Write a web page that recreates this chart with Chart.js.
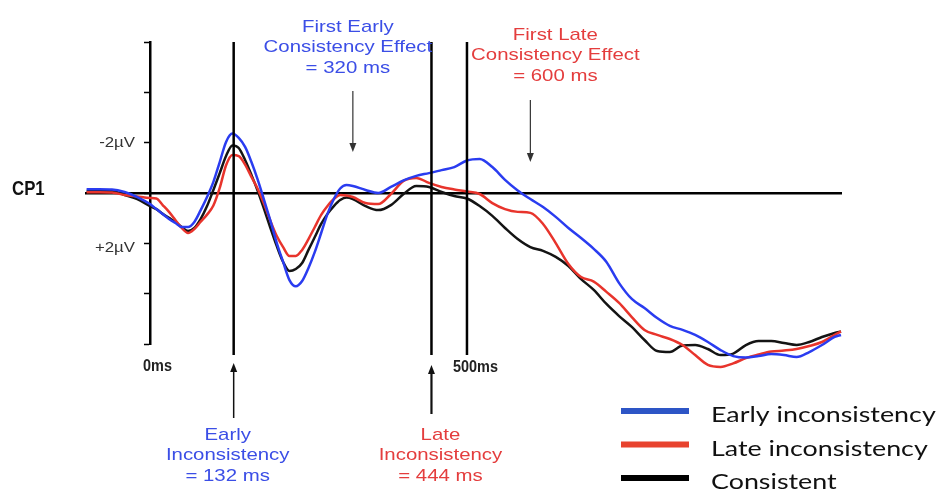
<!DOCTYPE html>
<html>
<head>
<meta charset="utf-8">
<script src="https://cdn.jsdelivr.net/npm/chart.js@4.4.1/dist/chart.umd.min.js"></script>
<style>
  html, body { margin: 0; padding: 0; background: #fff; }
  canvas { display: block; }
</style>
</head>
<body>
<canvas id="erp" width="937" height="491"></canvas>
<script>
// sample times in ms (denser over the early components)
const times = [-100, -80, -60, -40, -20,
  0, 10, 20, 30, 40, 50, 60, 70, 80, 90,
  100, 110, 120, 130, 140, 150, 160, 170, 180, 190,
  200, 210, 220, 230, 240, 250, 260, 270, 280, 290,
  300, 310, 320,
  340, 360, 380, 400, 420, 440, 460, 480, 500, 520,
  540, 560, 580, 600, 620, 640, 660, 680, 700, 720,
  740, 760, 780, 800, 820, 840, 860, 880, 900, 920,
  940, 960, 980, 1000, 1020, 1040, 1060, 1080, 1090];

// amplitudes at CP1 in µV (negative plotted upward)
const earlyInconsistency = [-0.15, -0.15, -0.14, -0.04, 0.16,
  0.44, 0.64, 0.83, 1.03, 1.19, 1.35, 1.35, 1.15, 0.68, 0.16,
  -0.44, -1.23, -2.03, -2.36, -2.19, -1.83, -1.23, -0.52, 0.28, 1.11,
  1.99, 2.74, 3.46, 3.71, 3.50, 2.98, 2.34, 1.59, 0.83, 0.24,
  -0.18, -0.32, -0.28,
  -0.12, 0.00, -0.24, -0.50, -0.68, -0.79, -0.91, -1.03, -1.29, -1.35,
  -1.03, -0.52, -0.10, 0.24, 0.56, 0.95, 1.39, 1.79, 2.22, 2.74,
  3.58, 4.21, 4.57, 4.97, 5.28, 5.44, 5.64, 5.92, 6.24, 6.48,
  6.54, 6.48, 6.40, 6.44, 6.52, 6.32, 6.04, 5.72, 5.64];

const lateInconsistency = [-0.03, -0.03, -0.02, 0.08, 0.14,
  0.20, 0.22, 0.48, 0.75, 1.07, 1.39, 1.59, 1.43, 1.14, 0.86,
  0.50, -0.20, -1.10, -1.51, -1.47, -1.13, -0.64, -0.16, 0.44, 1.11,
  1.71, 2.15, 2.50, 2.50, 2.26, 1.83, 1.35, 0.87, 0.52, 0.24,
  0.08, 0.10, 0.16,
  0.40, 0.44, 0.04, -0.48, -0.60, -0.40, -0.24, -0.14, -0.06, 0.04,
  0.40, 0.64, 0.75, 0.79, 1.23, 1.99, 2.82, 3.34, 3.52, 3.93,
  4.37, 4.93, 5.44, 5.64, 5.80, 6.04, 6.44, 6.83, 6.91, 6.77,
  6.56, 6.42, 6.30, 6.26, 6.20, 6.08, 5.92, 5.64, 5.50];

const consistent = [-0.08, -0.08, -0.08, 0.08, 0.24,
  0.52, 0.64, 0.83, 0.99, 1.15, 1.35, 1.51, 1.39, 1.03, 0.52,
  -0.12, -0.79, -1.47, -1.89, -1.79, -1.31, -0.72, -0.08, 0.64, 1.39,
  2.11, 2.74, 3.10, 3.02, 2.78, 2.26, 1.75, 1.23, 0.83, 0.52,
  0.28, 0.18, 0.24,
  0.52, 0.68, 0.48, 0.04, -0.28, -0.24, -0.04, 0.12, 0.22, 0.52,
  0.91, 1.39, 1.83, 2.15, 2.30, 2.54, 2.90, 3.42, 3.85, 4.41,
  4.89, 5.32, 5.84, 6.28, 6.32, 6.06, 6.04, 6.20, 6.44, 6.38,
  6.04, 5.88, 5.88, 5.96, 6.04, 5.92, 5.72, 5.56, 5.50];

const seriesLabels = ['Early inconsistency', 'Late inconsistency', 'Consistent'];

// onset of each inconsistency and first consistency effect (ms)
const onsetTimes = [132, 444];
const onsetLabels = [['Early', 'Inconsistency', '= 132 ms'], ['Late', 'Inconsistency', '= 444 ms']];
const effectTimes = [320, 600];
const effectLabels = [['First Early', 'Consistency Effect', '= 320 ms'], ['First Late', 'Consistency Effect', '= 600 ms']];
const timeMarks = [0, 500];
const voltTicks = [-2, 2];

const toPoints = values => times.map((t, i) => ({ x: t, y: values[i] }));

// draw text with a horizontal stretch factor
function wideText(ctx, text, x, y, sx, align) {
  ctx.save();
  ctx.translate(x, y);
  ctx.scale(sx, 1);
  ctx.textAlign = align;
  ctx.fillText(text, 0, 0);
  ctx.restore();
}

function arrow(ctx, x, yFrom, yTo, width) {
  const dir = yTo > yFrom ? 1 : -1;
  ctx.lineWidth = width;
  ctx.beginPath();
  ctx.moveTo(x, yFrom);
  ctx.lineTo(x, yTo - dir * 6);
  ctx.stroke();
  ctx.beginPath();
  ctx.moveTo(x, yTo);
  ctx.lineTo(x - 3.5, yTo - dir * 9);
  ctx.lineTo(x + 3.5, yTo - dir * 9);
  ctx.closePath();
  ctx.fill();
}

const overlay = {
  id: 'overlay',
  afterDatasetsDraw(chart) {
    const { ctx, chartArea } = chart;
    const xs = chart.scales.x;
    const ys = chart.scales.y;
    const blue = '#3b4ee6';
    const red = '#e43d3d';
    ctx.save();

    // small upward ticks every 100 ms on the zero line
    const y0 = ys.getPixelForValue(0);
    ctx.strokeStyle = '#000';
    ctx.lineWidth = 2;
    xs.ticks.forEach(t => {
      const px = xs.getPixelForValue(t.value);
      ctx.beginPath();
      ctx.moveTo(px, y0);
      ctx.lineTo(px, y0 - 5);
      ctx.stroke();
    });

    // vertical onset lines and the 500 ms line
    ctx.lineWidth = 2.5;
    [...onsetTimes, timeMarks[1]].forEach(t => {
      const px = xs.getPixelForValue(t);
      ctx.beginPath();
      ctx.moveTo(px, chartArea.top);
      ctx.lineTo(px, chartArea.bottom + 11);
      ctx.stroke();
    });

    // arrows
    ctx.strokeStyle = '#111';
    ctx.fillStyle = '#111';
    arrow(ctx, xs.getPixelForValue(onsetTimes[0]), 418, 363, 1.5);
    arrow(ctx, xs.getPixelForValue(onsetTimes[1]), 414, 365, 2.2);
    ctx.strokeStyle = '#333';
    ctx.fillStyle = '#333';
    arrow(ctx, xs.getPixelForValue(effectTimes[0]), 91, 152, 1.2);
    arrow(ctx, xs.getPixelForValue(effectTimes[1]), 100, 162, 1.2);

    // annotation text
    ctx.font = '17px "Liberation Sans", Arial, sans-serif';
    ctx.textBaseline = 'middle';
    const blocks = [
      { lines: effectLabels[0], x: xs.getPixelForValue(effectTimes[0]) - 5, y: 27, color: blue },
      { lines: effectLabels[1], x: xs.getPixelForValue(effectTimes[1]) + 25, y: 35, color: red },
      { lines: onsetLabels[0], x: xs.getPixelForValue(onsetTimes[0]) - 6, y: 435, color: blue },
      { lines: onsetLabels[1], x: xs.getPixelForValue(onsetTimes[1]) + 9, y: 435, color: red }
    ];
    blocks.forEach(b => {
      ctx.fillStyle = b.color;
      b.lines.forEach((line, i) => wideText(ctx, line, b.x, b.y + i * 20.5, 1.2, 'center'));
    });

    // time labels under the axis
    ctx.fillStyle = '#222';
    ctx.font = 'bold 17px "Liberation Sans", Arial, sans-serif';
    wideText(ctx, timeMarks[0] + 'ms', xs.getPixelForValue(timeMarks[0]) - 7, 366, 0.85, 'left');
    wideText(ctx, timeMarks[1] + 'ms', xs.getPixelForValue(timeMarks[1]) - 14, 367, 0.85, 'left');

    // voltage labels
    ctx.fillStyle = '#333';
    ctx.font = '14px "Liberation Sans", Arial, sans-serif';
    voltTicks.forEach(v => {
      const text = (v > 0 ? '+' : '-') + Math.abs(v) + 'µV';
      wideText(ctx, text, xs.getPixelForValue(0) - 15, ys.getPixelForValue(v) + (v > 0 ? 5 : 0), 1.2, 'right');
    });

    // electrode name
    ctx.fillStyle = '#111';
    ctx.font = 'bold 21px "Liberation Sans", Arial, sans-serif';
    wideText(ctx, 'CP1', 12, y0 - 4, 0.8, 'left');

    // legend
    const legendColors = ['#2d55c6', '#e8432e', '#000'];
    ctx.font = '22px Lato, "Open Sans", sans-serif';
    ctx.textBaseline = 'alphabetic';
    chart.data.datasets.forEach((ds, i) => {
      const yRow = 411 + i * 33.5;
      ctx.strokeStyle = legendColors[i];
      ctx.lineWidth = 6;
      ctx.beginPath();
      ctx.moveTo(621, yRow);
      ctx.lineTo(689, yRow);
      ctx.stroke();
      ctx.fillStyle = '#111';
      wideText(ctx, ds.label, 711, yRow + 11, 1.22, 'left');
    });

    ctx.restore();
  }
};

new Chart(document.getElementById('erp'), {
  type: 'line',
  data: {
    datasets: [
      { label: seriesLabels[0], data: toPoints(earlyInconsistency), borderColor: 'rgb(42, 60, 240)' },
      { label: seriesLabels[1], data: toPoints(lateInconsistency), borderColor: 'rgb(232, 52, 44)' },
      { label: seriesLabels[2], data: toPoints(consistent), borderColor: 'rgb(20, 20, 20)' }
    ]
  },
  options: {
    responsive: false,
    animation: false,
    layout: { padding: { left: 86.6, right: 96, top: 42, bottom: 147 } },
    datasets: { line: { clip: false } },
    elements: {
      point: { radius: 0 },
      line: { borderWidth: 2.5, fill: false, cubicInterpolationMode: 'monotone' }
    },
    plugins: {
      legend: { display: false },
      tooltip: { enabled: false }
    },
    scales: {
      x: {
        type: 'linear',
        min: -100,
        max: 1090,
        position: { y: 0 },
        afterBuildTicks: scale => {
          scale.ticks = scale.ticks.filter(t => t.value >= 100 && t.value <= 1000 && t.value % 100 === 0);
        },
        ticks: { display: false, stepSize: 100 },
        grid: { drawOnChartArea: false, drawTicks: false },
        border: { color: '#000', width: 2.5 }
      },
      y: {
        type: 'linear',
        min: -6,
        max: 6,
        reverse: true,
        position: { x: 0 },
        ticks: { display: false, stepSize: 2 },
        grid: { drawOnChartArea: false, tickLength: 5, tickWidth: 1.5, tickColor: '#000' },
        border: { color: '#000', width: 2.5 }
      }
    }
  },
  plugins: [overlay]
});
</script>
</body>
</html>
